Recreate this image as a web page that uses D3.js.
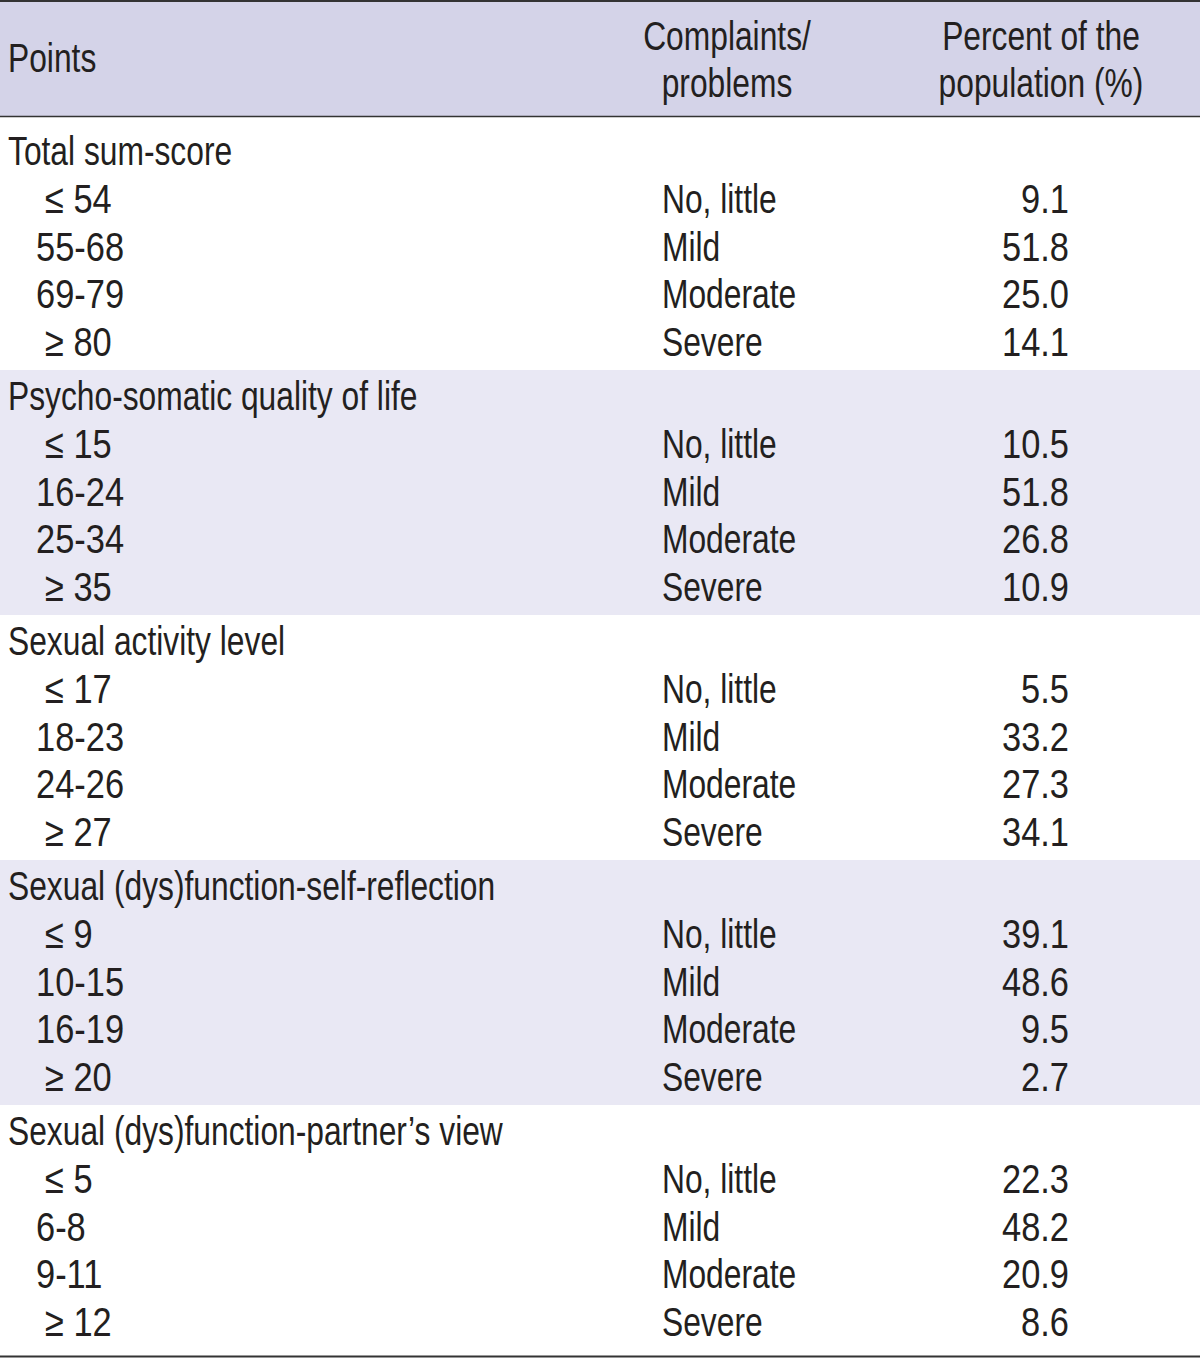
<!DOCTYPE html>
<html><head><meta charset="utf-8">
<script src="https://cdn.jsdelivr.net/npm/d3@7"></script>
<style>
html,body{margin:0;padding:0;background:#fff;}
svg{display:block;}
text{font-family:"Liberation Sans Narrow","Arial Narrow","Liberation Sans",sans-serif;fill:#231f20;}
</style></head>
<body>
<svg id="chart" width="1200" height="1359"></svg>
<script>
const headers = ["Points", "Complaints/\nproblems", "Percent of the\npopulation (%)"];
const sections = ["Total sum-score", "Psycho-somatic quality of life", "Sexual activity level",
  "Sexual (dys)function-self-reflection", "Sexual (dys)function-partner\u2019s view"];
const points = [
  ["\u2264 54", "55-68", "69-79", "\u2265 80"],
  ["\u2264 15", "16-24", "25-34", "\u2265 35"],
  ["\u2264 17", "18-23", "24-26", "\u2265 27"],
  ["\u2264 9", "10-15", "16-19", "\u2265 20"],
  ["\u2264 5", "6-8", "9-11", "\u2265 12"]
];
const complaints = ["No, little", "Mild", "Moderate", "Severe"];
const percents = [
  [9.1, 51.8, 25.0, 14.1],
  [10.5, 51.8, 26.8, 10.9],
  [5.5, 33.2, 27.3, 34.1],
  [39.1, 48.6, 9.5, 2.7],
  [22.3, 48.2, 20.9, 8.6]
];

const svg = d3.select("#chart");
const W = 1200;
const FS = 41, SQ = 0.775, SQ_NUM = 0.84; // font size, horizontal squeeze factors

// scales
const ySec = d3.scaleLinear().domain([0, 1]).range([165, 410]);     // baseline of section title
const yRow = d3.scaleLinear().domain([0, 1]).range([0, 47.8]);       // offset per sub-row
const bandTop = s => s === 0 ? 117 : ySec(s) - 40;
const bandBottom = s => s === sections.length - 1 ? 1356 : ySec(s + 1) - 40;

// backgrounds
svg.append("rect").attr("x", 0).attr("y", 0).attr("width", W).attr("height", 117).attr("fill", "#d4d3e8");
svg.selectAll("rect.band").data(sections.map((d, i) => i).filter(i => i % 2 === 1))
  .enter().append("rect").attr("class", "band")
  .attr("x", 0).attr("width", W)
  .attr("y", d => bandTop(d)).attr("height", d => bandBottom(d) - bandTop(d))
  .attr("fill", "#e9e8f4");

// rules
[[1, 2], [116.5, 1.6], [1356.5, 2]].forEach(([y, w]) => {
  svg.append("line").attr("x1", 0).attr("x2", W).attr("y1", y).attr("y2", y)
    .attr("stroke", "#333").attr("stroke-width", w);
});

// condensed text: scale horizontally about the anchor point (digits a bit wider in the reference)
function addText(x, y, str, anchor) {
  const f = /^[\d\s.\-\u2264\u2265]+$/.test(str) ? SQ_NUM : SQ;
  return svg.append("text")
    .attr("transform", `translate(${x},${y}) scale(${f},1)`)
    .attr("font-size", FS)
    .attr("text-anchor", anchor || "start").text(str);
}

// header
addText(8, 72, headers[0]);
headers[1].split("\n").forEach((l, i) => addText(727, 50 + i * 47, l, "middle"));
headers[2].split("\n").forEach((l, i) => addText(1041, 50 + i * 47, l, "middle"));

// body
sections.forEach((sec, s) => {
  addText(8, ySec(s), sec);
  points[s].forEach((p, k) => {
    const y = ySec(s) + yRow(k + 1);
    const indent = /^[\u2264\u2265]/.test(p) ? 45 : 36;
    addText(indent, y, p);
    addText(662, y, complaints[k]);
    addText(1069, y, d3.format(".1f")(percents[s][k]), "end");
  });
});
</script>
</body></html>
